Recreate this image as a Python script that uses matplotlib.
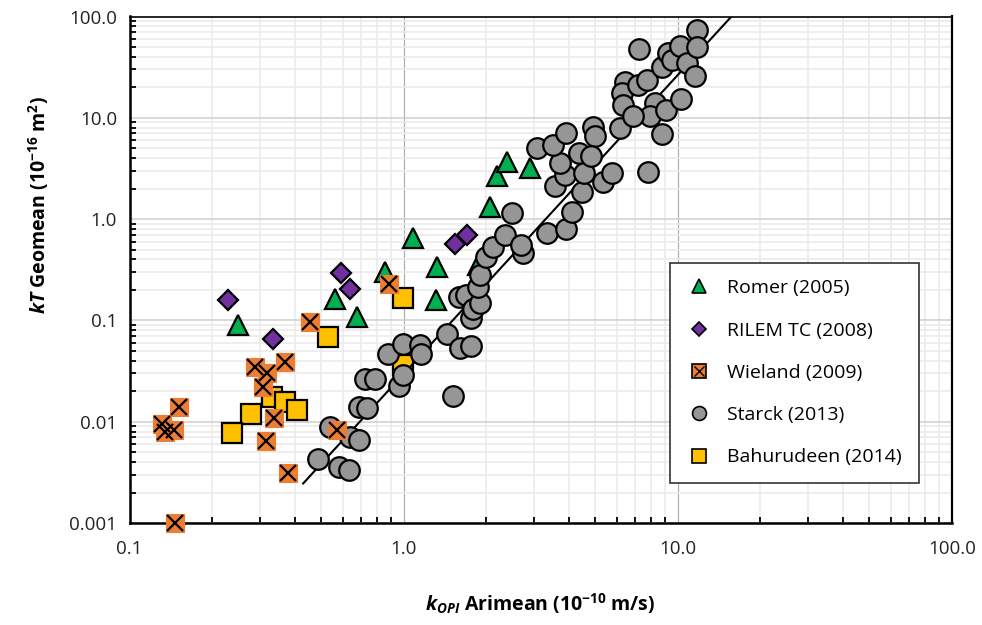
import matplotlib
matplotlib.use('Agg')
import matplotlib.pyplot as plt
from matplotlib.lines import Line2D
from matplotlib.ticker import LogLocator, FixedFormatter, FixedLocator, NullFormatter
import numpy as np

plt.rcParams['font.family'] = ['Open Sans', 'DejaVu Sans']
plt.rcParams['mathtext.fontset'] = 'custom'
plt.rcParams['mathtext.rm'] = 'Open Sans'
plt.rcParams['mathtext.it'] = 'Open Sans:italic'
plt.rcParams['mathtext.bf'] = 'Open Sans:bold'
plt.rcParams['mathtext.bfit'] = 'Open Sans:bold:italic'

# Romer (2005)
romer_x = [0.249, 0.562, 0.675, 0.855, 1.085, 1.321, 1.313, 2.067, 2.187, 2.378, 2.892, 1.876]
romer_y = [0.090, 0.162, 0.109, 0.303, 0.646, 0.339, 0.159, 1.33, 2.66, 3.69, 3.17, 0.352]

# RILEM TC (2008)
rilem_x = [0.228, 0.335, 0.591, 0.637, 1.540, 1.699]
rilem_y = [0.159, 0.0651, 0.292, 0.204, 0.564, 0.697]

# Wieland (2009)
wieland_x = [0.887, 0.456, 0.369, 0.287, 0.317, 0.308, 0.338, 0.315, 0.380,
             0.151, 0.131, 0.135, 0.145, 0.147, 0.570]
wieland_y = [0.227, 0.0971, 0.0391, 0.0344, 0.0305, 0.0219, 0.0110, 0.00649, 0.00314,
             0.0141, 0.00949, 0.00796, 0.00828, 0.001, 0.00828]

# Starck (2013)
starck_x = [0.489, 0.581, 0.630, 0.539, 0.637, 0.688, 0.685, 0.738, 0.726, 0.786,
            0.874, 0.995, 1.143, 1.162, 0.962, 0.995, 1.434, 1.60, 1.769, 1.514,
            1.593, 1.689, 1.769, 1.792, 1.900, 1.876, 1.900, 2.006, 2.120, 2.344,
            2.480, 2.716, 2.682, 3.327, 3.912, 4.116, 3.568, 4.465, 3.879, 3.720,
            3.059, 3.517, 3.929, 4.365, 4.533, 4.922, 4.993, 4.828, 5.34, 5.743,
            6.158, 7.81, 6.424, 6.248, 6.33, 7.18, 7.70, 8.30, 7.93, 6.89,
            8.74, 9.03, 10.24, 7.24, 8.74, 9.24, 9.51, 10.19, 10.86, 11.73,
            11.73, 11.56]
starck_y = [0.00433, 0.00361, 0.00337, 0.00887, 0.00714, 0.00660, 0.0141, 0.0137, 0.0261, 0.0261,
            0.0471, 0.0585, 0.0578, 0.0461, 0.0223, 0.0289, 0.0734, 0.0528, 0.0553, 0.0179,
            0.170, 0.178, 0.106, 0.130, 0.149, 0.216, 0.278, 0.427, 0.530, 0.697,
            1.149, 0.468, 0.549, 0.734, 0.790, 1.175, 2.12, 1.86, 2.73, 3.62,
            5.00, 5.39, 7.03, 4.49, 2.85, 8.17, 6.61, 4.15, 2.32, 2.82,
            7.88, 2.92, 22.7, 17.5, 13.4, 21.1, 23.6, 13.9, 10.3, 10.3,
            6.92, 11.9, 15.3, 47.5, 31.9, 43.3, 37.2, 51.7, 34.5, 73.6,
            50.4, 25.6]

# Bahurudeen (2014)
bahurudeen_x = [0.997, 0.529, 0.330, 0.369, 0.407, 0.277, 0.236, 0.993]
bahurudeen_y = [0.168, 0.0681, 0.0174, 0.0158, 0.0131, 0.0119, 0.00779, 0.0363]

# power-law trend line kT = a * kOPI^b
fit_a = 0.0296
fit_b = 2.95
fit_x = [0.43, 20.0]

x_ticks = [0.1, 1, 10, 100]
x_labels = ['0.1', '1.0', '10.0', '100.0']
y_ticks = [0.001, 0.01, 0.1, 1, 10, 100]
y_labels = ['0.001', '0.01', '0.1', '1.0', '10.0', '100.0']

green = '#00B050'
purple = '#7030A0'
orange = '#ED7D31'
grey = '#969696'
yellow = '#FFC000'

fig = plt.figure(figsize=(9.82, 6.25), dpi=100)
ax = fig.add_axes([0.1319, 0.1632, 0.8373, 0.8104])
ax.set_xscale('log')
ax.set_yscale('log')
ax.set_xlim(0.1, 100)
ax.set_ylim(0.001, 100)

# grid: light minor lines, darker decade lines
ax.xaxis.set_minor_locator(LogLocator(base=10, subs=np.arange(2, 10)))
ax.yaxis.set_minor_locator(LogLocator(base=10, subs=np.arange(2, 10)))
ax.xaxis.set_minor_formatter(NullFormatter())
ax.yaxis.set_minor_formatter(NullFormatter())
ax.grid(which='minor', color='#ebebeb', lw=1.2, zorder=0)
ax.grid(which='major', axis='x', color='#b0b0b0', lw=0.9, zorder=0)
ax.grid(which='major', axis='y', color='#d2d2d2', lw=1.2, zorder=0)
ax.set_axisbelow(True)

ax.xaxis.set_major_locator(FixedLocator(x_ticks))
ax.xaxis.set_major_formatter(FixedFormatter(x_labels))
ax.yaxis.set_major_locator(FixedLocator(y_ticks))
ax.yaxis.set_major_formatter(FixedFormatter(y_labels))
ax.tick_params(which='both', direction='in', top=False, right=False, width=1.3, color='black')
ax.tick_params(which='major', length=0, labelsize=13.5, colors='#222222')
ax.tick_params(axis='x', which='major', pad=12)
ax.tick_params(axis='y', which='major', pad=9)
ax.tick_params(which='minor', length=4)

for side, lw in [('left', 1.8), ('bottom', 1.8), ('right', 1.6), ('top', 1.2)]:
    ax.spines[side].set_linewidth(lw)
    ax.spines[side].set_color('black')

# trend line
fx = np.array(fit_x)
ax.plot(fx, fit_a * fx ** fit_b, color='black', lw=1.5, zorder=2.5)

ax.plot(bahurudeen_x, bahurudeen_y, ls='none', marker='s', ms=14, mfc=yellow, mec='black',
        mew=1.6, zorder=2)
ax.plot(romer_x, romer_y, ls='none', marker='^', ms=14.5, mfc=green, mec='black',
        mew=1.6, zorder=2)
ax.plot(rilem_x, rilem_y, ls='none', marker='D', ms=10.5, mfc=purple, mec='black',
        mew=1.6, zorder=2)
ax.plot(starck_x, starck_y, ls='none', marker='o', ms=14.8, mfc=grey, mec='black',
        mew=1.6, zorder=3)
ax.plot(wieland_x, wieland_y, ls='none', marker='s', ms=13.5, mfc=orange, mec=orange,
        mew=0.8, zorder=4, clip_on=False)
ax.plot(wieland_x, wieland_y, ls='none', marker='x', ms=11, mec='black',
        mew=1.6, zorder=4.1, clip_on=False)

ax.set_xlabel(r'$\mathbfit{k}_{\mathbfit{OPI}}$ Arimean (10$^{\mathbf{-10}}$ m/s)',
              fontsize=14, fontweight='bold')
ax.set_ylabel(r'$\mathbfit{kT}$ Geomean (10$^{\mathbf{-16}}$ m$^{\mathbf{2}}$)',
              fontsize=14, fontweight='bold')
ax.xaxis.set_label_coords(0.5, -0.136)
ax.yaxis.set_label_coords(-0.096, 0.628)

# legend
h_romer = Line2D([], [], ls='none', marker='^', ms=10, mfc=green, mec='black', mew=1.2)
h_rilem = Line2D([], [], ls='none', marker='D', ms=7, mfc=purple, mec='black', mew=1.2)
h_wieland = (Line2D([], [], ls='none', marker='s', ms=9.5, mfc=orange, mec='black', mew=1.2),
             Line2D([], [], ls='none', marker='x', ms=7.5, mec='black', mew=1.0))
h_starck = Line2D([], [], ls='none', marker='o', ms=10, mfc=grey, mec='black', mew=1.2)
h_bahu = Line2D([], [], ls='none', marker='s', ms=9.5, mfc=yellow, mec='black', mew=1.2)

leg = ax.legend([h_romer, h_rilem, h_wieland, h_starck, h_bahu],
                ['Romer (2005)', 'RILEM TC (2008)', 'Wieland (2009)', 'Starck (2013)',
                 'Bahurudeen (2014)'],
                loc='lower left', bbox_to_anchor=(0.6574, 0.079), fontsize=14,
                frameon=True, fancybox=False, edgecolor='#333333', framealpha=1,
                labelspacing=1.25, handletextpad=0.8, handlelength=1.3,
                borderpad=0.85, borderaxespad=0)
leg.get_frame().set_linewidth(1.2)
leg.set_zorder(6)

fig.savefig('out.png', dpi=100)
